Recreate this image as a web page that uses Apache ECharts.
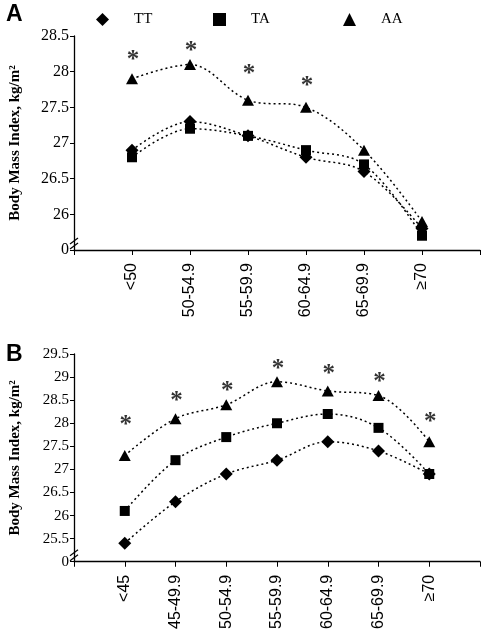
<!DOCTYPE html>
<html>
<head>
<meta charset="utf-8">
<script src="https://cdn.jsdelivr.net/npm/echarts@6/dist/echarts.min.js"></script>
<style>
html,body{margin:0;padding:0;background:#fff;}
#c{width:482px;height:632px;}
</style>
</head>
<body>
<div id="c"></div>
<script>
// ---- Data ----
var seriesNames = ['TT', 'TA', 'AA'];
var catsA = ['<50', '50-54.9', '55-59.9', '60-64.9', '65-69.9', '\u226570'];
var ttA = [26.9, 27.3, 27.1, 26.8, 26.6, 25.8];
var taA = [26.8, 27.2, 27.1, 26.9, 26.7, 25.7];
var aaA = [27.9, 28.1, 27.6, 27.5, 26.9, 25.9];
var starA = [28.2, 28.33, 28.0, 27.83, null, null];

var catsB = ['<45', '45-49.9', '50-54.9', '55-59.9', '60-64.9', '65-69.9', '\u226570'];
var ttB = [25.4, 26.3, 26.9, 27.2, 27.6, 27.4, 26.9];
var taB = [26.1, 27.2, 27.7, 28.0, 28.2, 27.9, 26.9];
var aaB = [27.3, 28.1, 28.4, 28.9, 28.7, 28.6, 27.6];
var starB = [28.01, 28.53, 28.76, 29.23, 29.12, 28.95, 28.07];

var yMinA = 25.5, yMaxA = 28.5;
var yMinB = 25.0, yMaxB = 29.5;
var yStep = 0.5;
var yTitle = 'Body Mass Index, kg/m\u00B2';

// ---- Helpers ----
function pad(arr) { return [null].concat(arr).concat([null]); }
function padCats(arr) { return [''].concat(arr).concat(['']); }
var symbols = { TT: 'diamond', TA: 'rect', AA: 'triangle' };
var symSizes = { TT: [13, 13], TA: [10, 10], AA: [12, 11] };
var serif = '"Liberation Serif", "Times New Roman", serif';
var sans = '"Liberation Sans", Arial, sans-serif';

function lineSeries(name, data, idx) {
  return {
    name: name, type: 'line', xAxisIndex: idx, yAxisIndex: idx,
    data: pad(data), smooth: 0.35,
    symbol: symbols[name], symbolSize: symSizes[name],
    itemStyle: { color: '#000' },
    lineStyle: { color: '#000', width: 1.5, type: [2, 3] },
    z: 3
  };
}
function starSeries(data, idx) {
  return {
    type: 'scatter', xAxisIndex: idx, yAxisIndex: idx,
    data: pad(data), symbolSize: 1, itemStyle: { color: 'rgba(0,0,0,0)' },
    silent: true,
    label: { show: true, position: 'inside', formatter: '*', color: '#000',
      fontFamily: serif, fontWeight: 'bold', fontSize: 25, offset: [1, 3] },
    z: 4
  };
}
function yAxisCfg(idx, mn, mx, fs) {
  return {
    gridIndex: idx, type: 'value', min: mn, max: mx, interval: yStep,
    name: yTitle, nameLocation: 'middle', nameGap: 51,
    nameTextStyle: { fontFamily: serif, fontWeight: 'bold', fontSize: 15, color: '#000' },
    axisLine: { show: true, lineStyle: { color: '#000', width: 1.3 } },
    axisTick: { show: true, length: 4, lineStyle: { color: '#000' } },
    splitLine: { show: false },
    axisLabel: { margin: 5, color: '#000', fontFamily: serif, fontSize: fs,
      formatter: function (v) { return Math.abs(v - mn) < 1e-9 ? '0' : String(v); } }
  };
}
function xAxisCfg(idx, cats) {
  return {
    gridIndex: idx, type: 'category', boundaryGap: false, data: padCats(cats),
    axisLine: { show: true, lineStyle: { color: '#000', width: 1.3 } },
    axisTick: { show: true, interval: 0, length: 5, lineStyle: { color: '#000' } },
    splitLine: { show: false },
    axisLabel: { interval: 0, rotate: 90, margin: 13, color: '#000', fontFamily: sans, fontSize: 16 }
  };
}
function legendCfg(name, left) {
  return {
    left: left, top: 7, itemWidth: 13, itemHeight: 13, selectedMode: false,
    data: [{ name: name, icon: symbols[name] }],
    textStyle: { fontFamily: serif, fontSize: 15, color: '#000', padding: [0, 0, 0, 20] },
    itemStyle: { color: '#000' }
  };
}

var chart = echarts.init(document.getElementById('c'), null, { renderer: 'canvas' });
var option = {
  animation: false,
  backgroundColor: '#fff',
  title: [
    { text: 'A', left: 1, top: -2, textStyle: { fontFamily: sans, fontWeight: 'bold', fontSize: 23, color: '#000' } },
    { text: 'B', left: 1, top: 338, textStyle: { fontFamily: sans, fontWeight: 'bold', fontSize: 23, color: '#000' } }
  ],
  legend: [legendCfg('TT', 91), legendCfg('TA', 208), legendCfg('AA', 338)],
  grid: [
    { left: 69, top: 36, width: 411, height: 214 },
    { left: 71, top: 354, width: 409, height: 214 }
  ],
  xAxis: [xAxisCfg(0, catsA), xAxisCfg(1, catsB)],
  yAxis: [yAxisCfg(0, yMinA, yMaxA, 16), yAxisCfg(1, yMinB, yMaxB, 15)],
  series: [
    lineSeries('TT', ttA, 0), lineSeries('TA', taA, 0), lineSeries('AA', aaA, 0), starSeries(starA, 0),
    lineSeries('TT', ttB, 1), lineSeries('TA', taB, 1), lineSeries('AA', aaB, 1), starSeries(starB, 1)
  ]
};
chart.setOption(option);

// axis break marks near the bottom of each y axis
function breakMarks(gi, mn) {
  var p = chart.convertToPixel({ gridIndex: gi }, [0, mn]);
  var x = p[0], y = p[1];
  var els = [];
  [-4, -9].forEach(function (dy) {
    els.push({ type: 'line', shape: { x1: x - 4, y1: y + dy + 3, x2: x + 4, y2: y + dy - 3 },
      style: { stroke: '#000', lineWidth: 1.2 }, z: 10 });
  });
  return els;
}
chart.setOption({ graphic: breakMarks(0, yMinA).concat(breakMarks(1, yMinB)) });
</script>
</body>
</html>
